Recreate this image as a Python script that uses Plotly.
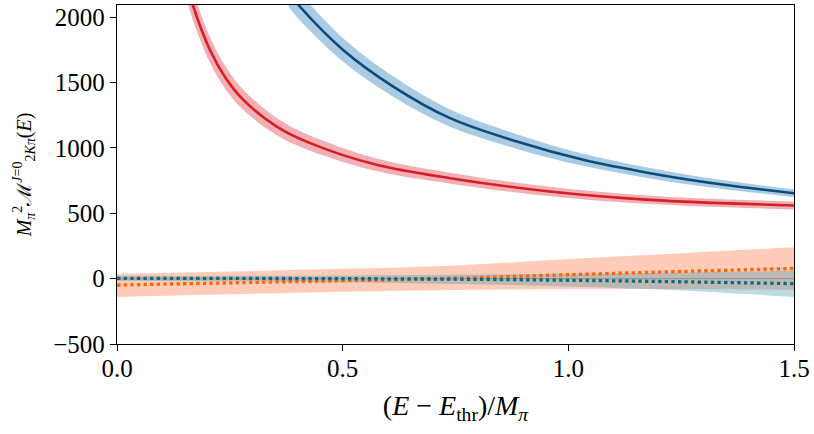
import plotly.graph_objects as go

# ---- data ----
red_x = [0.15, 0.168, 0.206, 0.24, 0.28, 0.354, 0.428, 0.575, 0.738, 0.959, 1.181, 1.5]
red_y = [2320, 2094, 1750, 1540, 1368, 1164, 1037, 871, 769, 667, 603, 560]
red_err = [130, 115, 98, 88, 78, 66, 58, 48, 42, 36, 32, 30]

blue_x = [0.38, 0.402, 0.501, 0.612, 0.738, 0.886, 1.033, 1.181, 1.329, 1.5]
blue_y = [2190, 2094, 1750, 1470, 1228, 1049, 909, 807, 726, 654]
blue_err = [110, 105, 90, 78, 66, 56, 46, 40, 34, 30]

low_x = [0.0, 0.25, 0.5, 0.75, 1.0, 1.25, 1.5]
orange_y = [-49, -32, -15, 3, 30, 55, 78]
orange_hi = [37, 55, 75, 101, 150, 195, 240]
orange_lo = [-140, -120, -100, -87, -80, -80, -85]
teal_y = [2, 2, 0, -4, -12, -24, -38]
teal_hi = [20, 22, 25, 30, 38, 48, 60]
teal_lo = [-18, -20, -28, -40, -60, -90, -140]

x_ticks = [0.0, 0.5, 1.0, 1.5]
x_ticklabels = ["0.0", "0.5", "1.0", "1.5"]
y_ticks = [-500, 0, 500, 1000, 1500, 2000]
y_ticklabels = ["−500", "0", "500", "1000", "1500", "2000"]

FONT = "Liberation Serif, DejaVu Serif, serif"

fig = go.Figure()

def band(x, lo, hi, fill):
    fig.add_trace(go.Scatter(x=x, y=hi, mode="lines", line=dict(width=0, shape="spline"),
                             hoverinfo="skip", showlegend=False))
    fig.add_trace(go.Scatter(x=x, y=lo, mode="lines", line=dict(width=0, shape="spline"),
                             fill="tonexty", fillcolor=fill, hoverinfo="skip", showlegend=False))

# lower bands
band(low_x, orange_lo, orange_hi, "rgba(255,120,70,0.38)")
band(low_x, teal_lo, teal_hi, "rgba(60,150,175,0.35)")

# zero line
fig.add_trace(go.Scatter(x=[0, 1.5], y=[0, 0], mode="lines",
                         line=dict(color="rgba(120,120,120,0.6)", width=1),
                         hoverinfo="skip", showlegend=False))

# upper bands
band(red_x, [v - e for v, e in zip(red_y, red_err)], [v + e for v, e in zip(red_y, red_err)],
     "rgba(226,80,90,0.45)")
band(blue_x, [v - e for v, e in zip(blue_y, blue_err)], [v + e for v, e in zip(blue_y, blue_err)],
     "rgba(100,160,205,0.55)")

# central lines
fig.add_trace(go.Scatter(x=red_x, y=red_y, mode="lines",
                         line=dict(color="#d41e28", width=2.6, shape="spline"), showlegend=False))
fig.add_trace(go.Scatter(x=blue_x, y=blue_y, mode="lines",
                         line=dict(color="#0c4a78", width=2.6, shape="spline"), showlegend=False))
fig.add_trace(go.Scatter(x=low_x, y=orange_y, mode="lines",
                         line=dict(color="#ff6400", width=3.3, dash="dot", shape="spline"), showlegend=False))
fig.add_trace(go.Scatter(x=low_x, y=teal_y, mode="lines",
                         line=dict(color="#0e6b7c", width=3.3, dash="dot", shape="spline"), showlegend=False))

tick_font = dict(family=FONT, size=25, color="black")
axis_common = dict(showline=True, mirror=True, linecolor="black", linewidth=1.3,
                   ticks="outside", ticklen=6, tickwidth=1.1, tickcolor="black",
                   showgrid=False, zeroline=False, automargin=False,
                   tickfont=tick_font)

fig.update_layout(
    width=814, height=434,
    font=dict(family=FONT, size=25, color="black"),
    margin=dict(l=117, r=20, t=5, b=90),
    paper_bgcolor="white", plot_bgcolor="white",
    xaxis=dict(range=[0, 1.5], tickmode="array", tickvals=x_ticks, ticktext=x_ticklabels,
               ticklabelstandoff=-4,
               title=dict(text="(<i>E</i> − <i>E</i><sub>thr</sub>)/<i>M</i><sub><i>π</i></sub>",
                          font=dict(family=FONT, size=28, color="black"), standoff=14),
               **axis_common),
    yaxis=dict(range=[-500, 2094], tickmode="array", tickvals=y_ticks, ticktext=y_ticklabels,
               title=dict(text="<i>M</i><sub><i>π</i></sub><sup>2</sup>ℳ<sup><i>J</i>=0</sup><sub>2<i>Kπ</i></sub>(<i>E</i>)",
                          font=dict(family=FONT, size=20, color="black"), standoff=16),
               **axis_common),
)

fig.write_html("out.html", config={"displayModeBar": False},
               post_script="document.body.style.margin='0';document.documentElement.style.overflow='hidden';")
